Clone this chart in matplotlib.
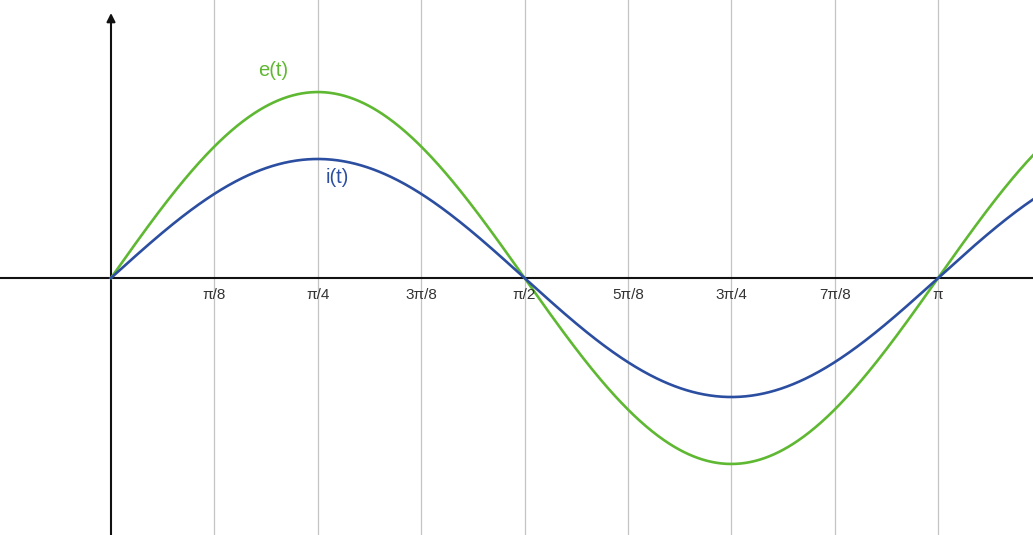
import numpy as np
import matplotlib.pyplot as plt

# amplitudes (e peak = 1)
e_amp = 1.0
i_amp = 0.64
omega = 2.0  # both curves complete one period over [0, pi]

tick_pos = [np.pi / 8 * k for k in range(1, 9)]
tick_labels = ['π/8', 'π/4', '3π/8', 'π/2', '5π/8', '3π/4', '7π/8', 'π']

green = '#5fb832'
blue = '#2b4ea0'

t = np.linspace(0, 3.6, 800)
e = e_amp * np.sin(omega * t)
i = i_amp * np.sin(omega * t)

fig = plt.figure(figsize=(10.33, 5.35), dpi=100)
ax = fig.add_axes([0, 0, 1, 1])
ax.set_xlim(-0.4216, 3.502)
ax.set_ylim(-1.382, 1.495)
ax.axis('off')

for x in tick_pos:
    ax.axvline(x, color='#c4c4c4', lw=0.9, zorder=1)

ax.axhline(0, color='#111111', lw=1.5, zorder=2)
ax.annotate('', xy=(0, 1.425), xytext=(0, -1.4),
            arrowprops=dict(arrowstyle='-|>,head_length=0.5,head_width=0.25',
                            color='#111111', lw=1.5, shrinkA=0, shrinkB=0),
            zorder=2)

ax.plot(t, e, color=green, lw=1.9, zorder=3)
ax.plot(t, i, color=blue, lw=1.9, zorder=4)

for x, lab in zip(tick_pos, tick_labels):
    ax.text(x, -0.09, lab, ha='center', va='center', fontsize=11,
            color='#333333', family='Liberation Sans', zorder=5)

ax.text(0.617, 1.118, 'e(t)', color=green, fontsize=14.5, ha='center', va='center',
        family='Liberation Sans')
ax.text(0.858, 0.54, 'i(t)', color=blue, fontsize=14.5, ha='center', va='center',
        family='Liberation Sans')

fig.savefig('out.png', dpi=100)
